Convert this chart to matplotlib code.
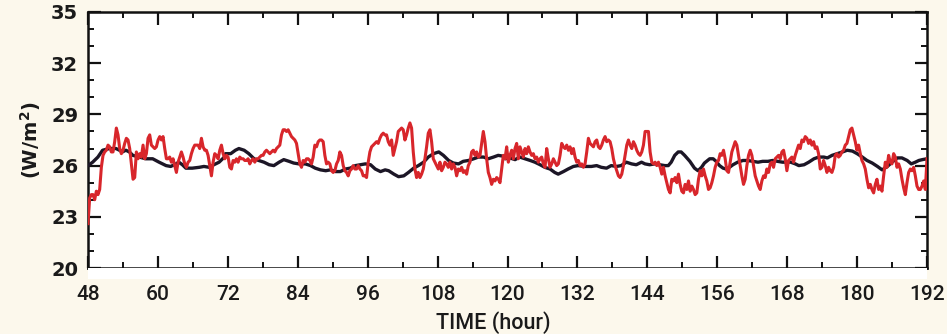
import numpy as np
import matplotlib
matplotlib.use("Agg")
import matplotlib.pyplot as plt
from matplotlib.ticker import MultipleLocator
from matplotlib.patches import Rectangle

# ---- data ----
red_values = [
    # 48 - 72 h
    22.6, 24.1, 24.3, 24.3, 24.0, 24.5, 24.3, 24.6, 25.9, 26.6, 26.8, 26.9, 27.2, 27.1, 26.8, 26.8,
    27.4, 28.2, 27.8, 27.0, 26.7, 26.9, 27.3, 27.6, 27.5, 27.0, 26.1, 25.2, 25.3, 26.8, 26.4, 26.7,
    26.5, 27.2, 26.4, 26.7, 27.6, 27.8, 27.2, 27.1, 27.0, 27.1, 27.5, 27.7, 27.5, 27.7, 27.0, 26.4,
    26.4, 26.5, 26.2, 26.4, 26.0, 25.6, 26.2, 26.5, 26.8, 26.5, 26.1, 25.9, 26.2, 26.3, 26.7, 27.0,
    27.2, 27.2, 27.2, 27.0, 27.6, 27.1, 26.9, 26.9, 26.6, 26.0, 25.4, 26.2, 26.7, 26.6, 26.4, 26.9,
    27.2, 26.7, 26.4,
    # 72 - 96 h
    26.6, 26.5, 25.9, 25.8, 26.3, 26.2, 26.4, 26.2, 26.5, 26.4, 26.4, 26.3, 26.3, 26.4, 26.1, 26.3,
    26.4, 26.2, 26.4, 26.4, 26.5, 26.6, 26.6, 26.8, 26.9, 26.8, 26.7, 26.8, 26.9, 26.8, 27.0, 27.1,
    27.2, 27.8, 28.1, 28.1, 28.0, 28.1, 27.9, 27.7, 27.6, 27.5, 27.3, 26.7, 26.1, 25.9, 26.3, 26.2,
    26.4, 26.4, 26.3, 26.1, 26.5, 27.2, 27.1, 27.4, 27.5, 27.5, 27.4, 26.6, 26.1, 26.2, 26.1, 25.7,
    25.6, 25.7, 26.1, 26.3, 26.8, 26.6, 26.0, 25.7, 25.6, 25.4, 25.7, 25.8, 26.0, 25.8, 25.8, 26.0,
    25.8, 25.7, 25.4, 25.4,
    # 96 - 120 h
    25.3, 26.2, 26.8, 27.1, 27.2, 27.3, 27.4, 27.3, 27.6, 27.8, 27.9, 27.8, 27.8, 27.4, 27.2, 27.5,
    26.6, 27.0, 27.4, 28.0, 28.1, 28.2, 28.1, 27.5, 27.8, 28.2, 28.5, 28.2, 26.8, 25.8, 25.3, 25.6,
    25.3, 25.5, 25.8, 26.4, 27.1, 27.9, 28.1, 27.4, 26.4, 26.2, 26.0, 25.8, 26.2, 25.7, 25.9, 26.2,
    26.1, 25.9, 26.2, 25.8, 26.1, 25.9, 25.4, 25.8, 25.7, 25.9, 25.6, 25.7, 25.5, 26.0, 26.2, 26.8,
    26.9, 26.6, 26.8, 26.5, 26.6, 27.3, 28.0, 27.4, 26.4, 25.6, 25.3, 24.9, 25.2, 25.1, 25.3, 25.2,
    25.0, 25.8, 26.6, 26.4,
    # 120 - 144 h
    27.1, 26.2, 26.6, 26.9, 26.4, 27.0, 27.3, 26.4, 27.1, 26.8, 26.5, 27.0, 26.7, 27.1, 26.8, 26.6,
    26.7, 26.4, 26.5, 26.2, 26.4, 26.5, 26.1, 25.9, 27.0, 26.4, 25.9, 26.1, 26.4, 26.2, 26.0, 26.1,
    26.6, 27.3, 27.1, 27.0, 27.2, 26.9, 27.1, 26.7, 27.0, 26.5, 26.2, 26.3, 26.0, 26.1, 25.9, 26.1,
    26.8, 27.6, 27.3, 27.2, 27.1, 27.4, 27.5, 27.1, 27.0, 27.2, 27.5, 27.7, 27.4, 27.5, 27.4, 27.0,
    26.4, 26.0, 25.7, 25.4, 25.3, 25.5, 26.0, 26.6, 27.2, 27.5, 27.2, 27.0, 27.4, 27.2, 26.9, 26.7,
    26.6, 26.8, 27.2, 28.0,
    # 144 - 168 h
    28.0, 28.0, 26.8, 26.2, 26.1, 26.2, 26.0, 26.2, 25.9, 25.5, 25.9, 25.4, 25.0, 24.6, 24.4, 25.2,
    25.1, 25.3, 25.0, 25.5, 24.9, 24.5, 24.4, 24.9, 24.6, 25.1, 24.5, 24.8, 24.6, 24.3, 24.4, 25.2,
    25.7, 25.4, 25.8, 25.4, 25.1, 24.6, 24.7, 25.0, 25.4, 25.9, 26.2, 26.3, 26.7, 26.6, 26.9, 26.4,
    25.7, 25.6, 26.2, 26.8, 27.1, 27.4, 27.2, 26.6, 26.0, 25.4, 24.9, 25.2, 26.0, 26.6, 26.9, 26.6,
    26.0, 25.4, 25.1, 24.8, 24.6, 25.1, 25.4, 25.3, 25.8, 25.6, 26.1, 26.2, 25.9, 26.4, 26.5, 26.6,
    26.4, 26.8, 26.9, 26.4,
    # 168 - 192 h
    25.7, 26.3, 26.4, 26.5, 26.2, 26.6, 26.9, 27.2, 27.0, 27.5, 27.4, 27.7, 27.6, 27.3, 27.5, 27.2,
    27.4, 27.0, 27.1, 26.7, 25.8, 25.9, 26.3, 26.0, 25.6, 25.9, 25.7, 25.6, 25.9, 26.6, 26.7, 26.5,
    26.6, 26.8, 26.9, 27.2, 27.3, 27.7, 28.1, 28.2, 27.8, 27.4, 26.9, 27.2, 26.7, 26.3, 26.1, 25.8,
    25.2, 24.7, 24.9, 24.6, 24.4, 24.9, 25.2, 24.6, 24.8, 24.5, 25.4, 26.2, 25.9, 26.6, 26.2, 26.1,
    26.7, 26.5, 25.9, 26.1, 25.8, 25.2, 24.7, 24.3, 25.0, 25.6, 25.8, 25.7, 25.9, 25.4, 24.8, 24.6,
    24.6, 24.8, 25.1, 24.6, 26.4,
]
red_hours = np.linspace(48, 192, len(red_values))

black_hours = [
    48.0, 48.8, 49.7, 50.5, 51.7, 52.8, 53.4, 53.9, 54.5, 55.1, 55.7, 56.8, 57.9, 59.1, 60.2, 61.4,
    62.2, 63.1, 63.6, 64.2, 64.8, 65.9, 67.1, 67.9, 68.8, 69.6, 70.5, 71.4,
    71.6, 72.5, 73.3, 73.9, 74.8, 75.6, 76.5, 77.3, 78.2, 79.1, 79.9, 80.8, 81.6, 82.5, 83.3, 84.2,
    85.3, 86.2, 87.0, 87.9, 88.8, 89.6, 90.5, 91.3, 92.2, 93.0, 93.9, 94.8,
    95.6, 96.5, 97.3, 98.2, 99.0, 99.6, 100.5, 101.3, 102.2, 103.0, 103.9, 104.7, 105.6, 106.4,
    107.3, 108.2, 109.0, 109.9, 110.7, 111.6, 112.4, 113.3, 114.2, 115.0, 115.9, 116.7, 117.6,
    118.4, 119.3,
    119.6, 120.4, 121.3, 122.1, 123.0, 123.9, 124.7, 125.6, 126.4, 127.3, 128.1, 128.7, 129.6,
    130.4, 131.3, 132.1, 133.3, 134.4, 135.3, 136.1, 137.0, 137.8, 138.7, 139.5, 140.4, 141.3,
    142.1, 143.0,
    143.6, 144.4, 145.3, 146.1, 147.0, 147.6, 148.1, 148.7, 149.3, 149.8, 150.4, 151.3, 152.1,
    152.7, 153.3, 153.8, 154.7, 155.3, 155.8, 156.4, 157.0, 157.5, 158.1, 158.7, 159.5, 160.4,
    161.2, 162.1, 163.0, 163.8, 164.7, 165.5, 166.4, 167.2,
    167.7, 168.6, 169.4, 170.0, 170.9, 171.7, 172.6, 173.4, 174.3, 174.9, 175.7, 176.6, 177.5,
    178.3, 179.2, 180.0, 180.9, 181.7, 182.6, 183.5, 184.3, 185.2, 186.0, 186.9, 187.7, 188.6,
    189.3, 190.0, 190.6, 191.2, 192.0,
]
black_values = [
    26.0, 26.2, 26.5, 26.9, 27.0, 27.0, 26.9, 26.8, 26.9, 26.8, 26.6, 26.5, 26.4, 26.4, 26.2, 26.0,
    25.95, 26.1, 26.2, 26.05, 25.85, 25.85, 25.9, 25.95, 25.9, 26.05, 26.2, 26.5,
    26.7, 26.7, 26.9, 27.0, 26.9, 26.7, 26.4, 26.3, 26.2, 26.05, 26.0, 26.2, 26.35, 26.25, 26.15,
    26.1, 26.1, 26.0, 25.85, 25.75, 25.7, 25.75, 25.65, 25.65, 25.8, 25.85, 26.0, 26.05,
    26.1, 26.05, 25.8, 25.65, 25.75, 25.7, 25.5, 25.35, 25.4, 25.6, 25.85, 26.0, 26.2, 26.5,
    26.7, 26.8, 26.6, 26.3, 26.15, 26.1, 26.25, 26.3, 26.4, 26.5, 26.5, 26.4, 26.5, 26.6, 26.55,
    26.4, 26.45, 26.35, 26.5, 26.4, 26.3, 26.2, 26.05, 25.9, 25.8, 25.6, 25.5, 25.65, 25.8, 25.95,
    26.0, 25.95, 25.95, 26.0, 25.9, 25.85, 26.0, 25.95, 26.0, 26.2, 26.1, 26.05, 26.2,
    26.1, 26.05, 26.1, 26.05, 26.0, 26.0, 26.2, 26.6, 26.8, 26.8, 26.6, 26.25, 25.85, 25.7, 25.9,
    26.15, 26.4, 26.4, 26.25, 26.0, 25.85, 25.8, 25.9, 26.05, 26.2, 26.3, 26.3, 26.25, 26.2,
    26.25, 26.25, 26.3, 26.25, 26.2,
    26.2, 26.2, 26.1, 26.0, 26.05, 26.2, 26.4, 26.5, 26.5, 26.45, 26.6, 26.7, 26.8, 26.9, 26.85,
    26.7, 26.5, 26.3, 26.15, 25.95, 25.75, 25.95, 26.2, 26.45, 26.45, 26.3, 26.1, 26.2, 26.3,
    26.35, 26.4,
]

x_ticks = [48, 60, 72, 84, 96, 108, 120, 132, 144, 156, 168, 180, 192]
y_ticks = [20, 23, 26, 29, 32, 35]

# ---- styling ----
bg = "#fcf8ec"
red = "#d8262b"
dark = "#1c1626"
ink = "#1a1a1a"
xfont = ["Roboto", "DejaVu Sans"]

fig = plt.figure(figsize=(9.47, 3.34), dpi=100, facecolor=bg)
L, R, T, B = 88 / 947, 927 / 947, 1 - 12 / 334, 1 - 268 / 334
ax = fig.add_axes([L, B, R - L, T - B])
ax.set_facecolor("white")

# white strip under the plot frame (as in reference)
fig.patches.append(Rectangle((L, 1 - 279 / 334), R - L, (279 - 268) / 334,
                             transform=fig.transFigure, facecolor="white",
                             edgecolor="none", zorder=0))

ax.plot(black_hours, black_values, color=dark, lw=2.4, zorder=3)
ax.plot(red_hours, red_values, color=red, lw=2.2, zorder=4)

ax.set_xlim(48, 192)
ax.set_ylim(20, 35)
ax.set_xticks(x_ticks)
ax.set_yticks(y_ticks)
ax.xaxis.set_minor_locator(MultipleLocator(6))
ax.yaxis.set_minor_locator(MultipleLocator(1))

for s in ax.spines.values():
    s.set_linewidth(1.8)
    s.set_color("#111111")

ax.tick_params(which="major", direction="in", length=9, width=1.6,
               top=True, right=True, color="#111111")
ax.tick_params(which="minor", direction="in", length=4.5, width=1.4,
               top=True, right=True, color="#111111")
ax.tick_params(axis="x", which="major", pad=12)
ax.tick_params(axis="y", which="major", pad=7, labelsize=14)

for lab in ax.get_yticklabels():
    lab.set_fontweight("bold")
    lab.set_color(ink)
for lab in ax.get_xticklabels():
    lab.set_family(xfont)
    lab.set_fontweight("medium")
    lab.set_fontsize(15)
    lab.set_color(ink)

ax.set_ylabel("(W/m$^\\mathbf{2}$)", fontsize=14, fontweight="bold", labelpad=6,
              color=ink)
ax.set_xlabel("TIME (hour)", fontsize=15.5, fontweight="medium",
              family=xfont, labelpad=0, color=ink)
ax.xaxis.set_label_coords(0.483, -0.17)

fig.savefig("out.png", dpi=100, facecolor=bg)
